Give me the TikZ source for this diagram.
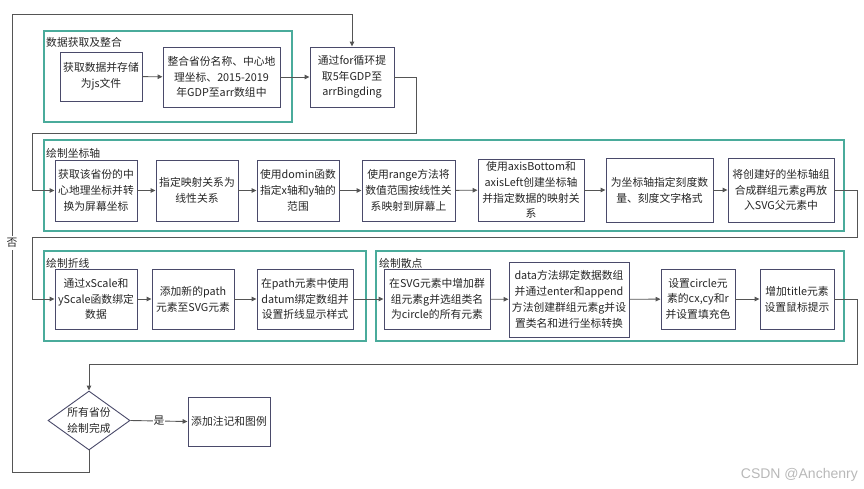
\documentclass[tikz,border=0pt]{standalone}
\usepackage{fontspec}
\setmainfont{Noto Sans CJK SC}
\newfontfamily\wmfont{Liberation Sans}
\usetikzlibrary{arrows.meta,shapes.geometric}
\definecolor{boxline}{HTML}{4A4A6A}
\definecolor{grpline}{HTML}{4AAB9B}
\definecolor{conn}{HTML}{555555}
\tikzset{
  stepbox/.style={draw=boxline, line width=0.9pt, fill=white, align=center, inner sep=0pt,
    font=\fontsize{10.8}{15.8}\selectfont, text=black!85},
  grpbox/.style={draw=grpline, line width=1.3pt},
  grptitle/.style={anchor=west, inner sep=0pt, font=\fontsize{10.8}{13}\selectfont, text=black!85},
  link/.style={draw=conn, line width=0.9pt, -{Triangle[length=5pt,width=4.5pt]}},
}
\newcommand{\stepnode}[6]{% name, x1,y1,x2,y2, text
  \node[stepbox, minimum width=#4pt-#2pt, minimum height=#5pt-#3pt] (#1) at ({(#2+#4)/2},{(#3+#5)/2}) {#6};}
\begin{document}
\begin{tikzpicture}[x=1pt,y=-1pt]
\useasboundingbox (0,0) rectangle (864,488);
% groups
\draw[grpbox] (44,31) rectangle (292,122);
\node[grptitle] (t1) at (46,42) {数据获取及整合};
\draw[grpbox] (44,140) rectangle (844,231);
\node[grptitle] (t2) at (46,153) {绘制坐标轴};
\draw[grpbox] (44,251) rectangle (366,341);
\node[grptitle] (t3) at (46,263) {绘制折线};
\draw[grpbox] (376,251) rectangle (844,341);
\node[grptitle] (t4) at (379,263) {绘制散点};
% row 1
\stepnode{A}{60}{52}{142}{101}{获取数据并存储\\为js文件}
\stepnode{B}{163}{47}{280}{107}{整合省份名称、中心地\\理坐标、2015-2019\\年GDP至arr数组中}
\stepnode{C}{310}{47}{394}{107}{通过for循环提\\取5年GDP至\\arrBingding}
% row 2
\stepnode{D1}{55}{160}{137}{221}{获取该省份的中\\心地理坐标并转\\换为屏幕坐标}
\stepnode{D2}{156}{160}{238}{221}{指定映射关系为\\线性关系}
\stepnode{D3}{257}{160}{339}{221}{使用domin函数\\指定x轴和y轴的\\范围}
\stepnode{D4}{362}{160}{455}{221}{使用range方法将\\数值范围按线性关\\系映射到屏幕上}
\stepnode{D5}{478}{159}{584}{221}{使用axisBottom和\\axisLeft创建坐标轴\\并指定数据的映射关\\系}
\stepnode{D6}{606}{158}{713}{222}{为坐标轴指定刻度数\\量、刻度文字格式}
\stepnode{D7}{728}{158}{834}{222}{将创建好的坐标轴组\\合成群组元素g再放\\入SVG父元素中}
% row 3
\stepnode{E1}{55}{269}{137}{329}{通过xScale和\\yScale函数绑定\\数据}
\stepnode{E2}{152}{269}{234}{329}{添加新的path\\元素至SVG元素}
\stepnode{E3}{257}{269}{353}{329}{在path元素中使用\\datum绑定数组并\\设置折线显示样式}
\stepnode{F1}{384}{269}{490}{329}{在SVG元素中增加群\\组元素g并选组类名\\为circle的所有元素}
\stepnode{F2}{509}{262}{629}{337}{data方法绑定数据数组\\并通过enter和append\\方法创建群组元素g并设\\置类名和进行坐标转换}
\stepnode{F3}{661}{269}{735}{329}{设置circle元\\素的cx,cy和r\\并设置填充色}
\stepnode{F4}{760}{269}{834}{329}{增加title元素\\设置鼠标提示}
% decision and end
\node[diamond, draw=boxline, line width=0.9pt, fill=white, inner sep=0pt, aspect=1.39,
  minimum width=82pt, minimum height=59pt, align=center,
  font=\fontsize{10.8}{15.8}\selectfont, text=black!85] (Q) at (89,420.5) {所有省份\\绘制完成};
\stepnode{G}{188}{397}{270}{446}{添加注记和图例}
% connectors
\draw[link] (A) -- (B);
\draw[link] (B) -- (C);
\coordinate (c1) at (416,77);
\coordinate (c2) at (416,133);
\coordinate (c3) at (32,133);
\draw[link] (C.east |- c1) -- (c1) -- (c2) -- (c3) -- (c3 |- D1.west) -- (D1.west);
\draw[link] (D1) -- (D2);
\draw[link] (D2) -- (D3);
\draw[link] (D3) -- (D4);
\draw[link] (D4) -- (D5);
\draw[link] (D5) -- (D6);
\draw[link] (D6) -- (D7);
\coordinate (d1) at (857,190);
\coordinate (d2) at (857,237);
\coordinate (d3) at (32,237);
\draw[link] (D7.east) -- (d1) -- (d2) -- (d3) -- (d3 |- E1.west) -- (E1.west);
\draw[link] (E1) -- (E2);
\draw[link] (E2) -- (E3);
\draw[link] (E3) -- (F1);
\draw[link] (F1) -- (F2);
\draw[link] (F2) -- (F3);
\draw[link] (F3) -- (F4);
\coordinate (f1) at (857,299);
\coordinate (f2) at (857,364);
\coordinate (f3) at (89,364);
\draw[link] (F4.east) -- (f1) -- (f2) -- (f3) -- (Q.north);
\draw[link] (Q.east) -- node[fill=white, inner sep=1pt, font=\fontsize{10.8}{13}\selectfont, text=black!85] (yes) {是} (G.west);
\coordinate (q1) at (89,472);
\coordinate (q2) at (12,472);
\coordinate (q3) at (12,14);
\coordinate (q4) at (352,14);
\draw[link] (Q.south) -- (q1) -- (q2) -- node[pos=0.5, fill=white, inner sep=2pt, font=\fontsize{10.8}{13}\selectfont, text=black!85] (no) {否} (q3) -- (q4) -- (C.north);
% watermark
\node[anchor=east, inner sep=0pt, font=\wmfont\fontsize{14}{16}\selectfont, text=black!28] (wm) at (858,475) {CSDN @Anchenry};
\end{tikzpicture}
\end{document}
